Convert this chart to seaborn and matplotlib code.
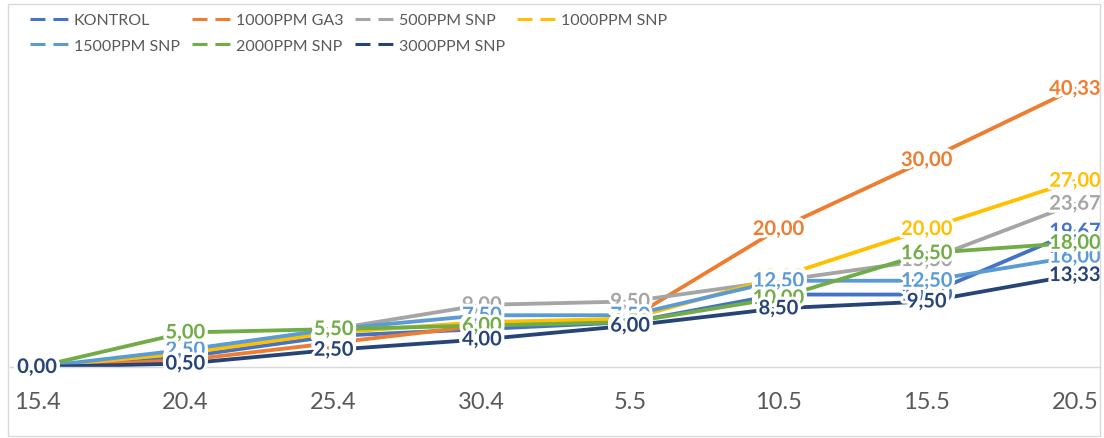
import pandas as pd
import matplotlib
matplotlib.use("Agg")
import matplotlib.pyplot as plt
import matplotlib.patheffects as pe
from matplotlib.lines import Line2D
from matplotlib.patches import Rectangle
import seaborn as sns

# ======================= Data =======================
dates = ["15.4", "20.4", "25.4", "30.4", "5.5", "10.5", "15.5", "20.5"]
series_names = ["KONTROL", "1000PPM GA3", "500PPM SNP", "1000PPM SNP",
                "1500PPM SNP", "2000PPM SNP", "3000PPM SNP"]
kontrol = [0.00, 1.50, 4.50, 5.50, 6.50, 10.50, 10.50, 19.67]
ga3_1000 = [0.00, 1.00, 3.50, 6.00, 7.00, 20.00, 30.00, 40.33]
snp_500 = [0.00, 2.00, 5.50, 9.00, 9.50, 12.50, 15.50, 23.67]
snp_1000 = [0.00, 2.00, 5.00, 6.50, 7.00, 13.00, 20.00, 27.00]
snp_1500 = [0.00, 2.50, 5.50, 7.50, 7.50, 12.50, 12.50, 16.00]
snp_2000 = [0.00, 5.00, 5.50, 6.00, 6.50, 10.00, 16.50, 18.00]
snp_3000 = [0.00, 0.50, 2.50, 4.00, 6.00, 8.50, 9.50, 13.33]
colors = ["#4472C4", "#ED7D31", "#A5A5A5", "#FFC000", "#5B9BD5", "#70AD47", "#264478"]

all_values = [kontrol, ga3_1000, snp_500, snp_1000, snp_1500, snp_2000, snp_3000]

rows = []
for name, vals in zip(series_names, all_values):
    for i, v in enumerate(vals):
        rows.append({"series": name, "pos": i, "value": v})
df = pd.DataFrame(rows)

# ======================= Figure =======================
sns.set_theme(style="white")
plt.rcParams["font.family"] = ["Lato", "DejaVu Sans"]

W, H = 1104, 439
fig = plt.figure(figsize=(W / 100, H / 100), dpi=100)
ax = fig.add_axes([10 / W, 1 - 368 / H, 1090 / W, 310.5 / H])

palette = dict(zip(series_names, colors))
sns.lineplot(data=df, x="pos", y="value", hue="series", hue_order=series_names,
             palette=palette, linewidth=2.75, sort=False, legend=False, ax=ax)

# data labels (centered on points, white halo)
for name, vals, c in zip(series_names, all_values, colors):
    for i, v in enumerate(vals):
        ax.text(i, v, f"{v:.2f}".replace(".", ","), ha="center", va="center",
                fontsize=14.5, fontweight="bold", color=c, clip_on=False,
                path_effects=[pe.withStroke(linewidth=4.5, foreground="white")],
                zorder=5)

ax.set_xlim(-0.182, 7.169)
ax.set_ylim(0, 45)
ax.set_xticks(range(len(dates)))
ax.set_xticklabels(dates, fontsize=17, color="#595959")
ax.set_yticks([])
ax.tick_params(axis="x", length=0, pad=17)
ax.set_xlabel("")
ax.set_ylabel("")
for s in ["top", "left", "right"]:
    ax.spines[s].set_visible(False)
ax.spines["bottom"].set_color("#D9D9D9")
ax.spines["bottom"].set_linewidth(1)
ax.patch.set_alpha(0)

# legend with dashed handles, ordered so rows read like the original
handles = [Line2D([], [], color=c, linewidth=2.2, dashes=(4.9, 2.6)) for c in colors]
order = [0, 4, 1, 5, 2, 6, 3]
fig.legend([handles[k] for k in order], [series_names[k] for k in order],
           loc="upper left", bbox_to_anchor=(30 / W, 1 - 14 / H), ncol=4,
           frameon=False, fontsize=11.5, borderpad=0, borderaxespad=0,
           handlelength=2.5, handletextpad=0.25, columnspacing=0.75,
           labelspacing=0.72, labelcolor="#595959")

# outer chart border
fig.patches.append(Rectangle((7.5 / W, 1 - 437 / H), 1092 / W, 432 / H,
                             transform=fig.transFigure, fill=False,
                             edgecolor="#D9D9D9", linewidth=1))

fig.savefig("out.png", dpi=100)
